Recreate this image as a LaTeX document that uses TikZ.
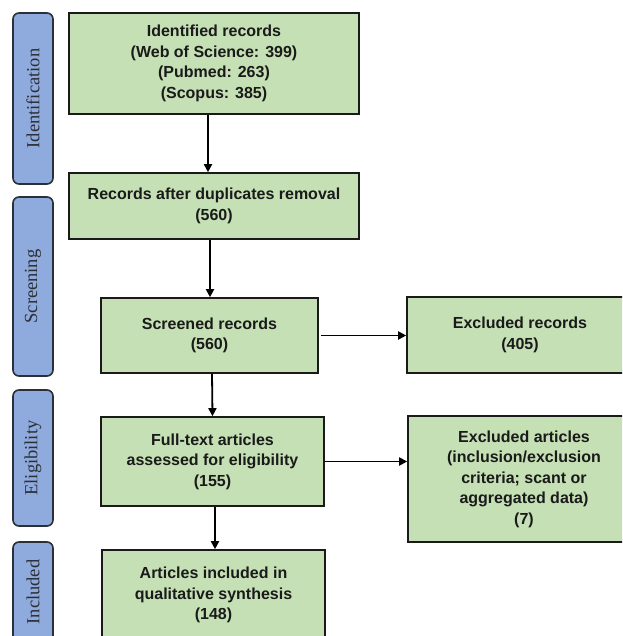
\documentclass[tikz,border=0pt]{standalone}
\usepackage{fontspec}
\usetikzlibrary{positioning,arrows.meta}
\newfontfamily\boxfont{Liberation Sans}
\newfontfamily\stagefont{Liberation Serif}
\definecolor{boxgreen}{HTML}{C5E0B4}
\definecolor{stageblue}{HTML}{8FAADC}
\definecolor{inkdark}{HTML}{1A1A1A}
\definecolor{stageink}{HTML}{2B2F36}

\begin{document}
\begin{tikzpicture}[
  x=1pt, y=-1pt,
  box/.style={draw=inkdark, fill=boxgreen, line width=1.6pt, align=center, inner sep=0pt,
    font=\boxfont\bfseries\fontsize{16}{20.5}\selectfont, text=inkdark},
  stage/.style={draw=stageink, fill=stageblue, line width=1.6pt, rounded corners=6pt,
    minimum width=40pt, inner sep=0pt, text=stageink, font=\stagefont\fontsize{18.5}{20}\selectfont},
  arr/.style={-{Triangle[length=8pt, width=8pt]}, draw=black, line width=1.8pt}]
\clip (0,0) rectangle (622,636);
% stages on the left
\node[stage, minimum height=171pt] (sid) at (33,98.5) {\rotatebox{90}{Identification}};
\node[stage, minimum height=179pt] (sscr) at (33,286.5) {\rotatebox{90}{Screening}};
\node[stage, minimum height=136pt] (selig) at (33,458) {\rotatebox{90}{Eligibility}};
\node[stage, minimum height=100pt] (sincl) at (33,592) {\rotatebox{90}{Included}};
% flow boxes
\node[box, minimum width=290pt, minimum height=101pt] (ident) at (214,63.5)
  {Identified records\\(Web of Science: 399)\\(Pubmed: 263)\\(Scopus: 385)};
\node[box, minimum width=290pt, minimum height=66pt] (dup) at (214,206)
  {Records after duplicates removal\\(560)};
\node[box, minimum width=217pt, minimum height=75pt] (screen) at (209.5,335.5)
  {Screened records\\(560)};
\node[box, minimum width=226pt, minimum height=76pt] (exrec) at (520,335)
  {Excluded records\\(405)};
\node[box, minimum width=223pt, minimum height=89pt] (full) at (212.5,461.5)
  {Full-text articles\\assessed for eligibility\\(155)};
\node[box, minimum width=232pt, minimum height=126pt] (exart) at (524,479)
  {Excluded articles\\(inclusion/exclusion\\criteria; scant or\\aggregated data)\\(7)};
\node[box, minimum width=223pt, minimum height=90pt] (incl) at (213.5,595)
  {Articles included in\\qualitative synthesis\\(148)};
% connectors
\draw[arr] ([xshift=-6pt]ident.south) -- ([xshift=-6pt]dup.north);
\draw[arr] ([xshift=-4pt]dup.south) -- ([xshift=0.5pt]screen.north);
\draw[arr] ([xshift=2.5pt]screen.south) -- (full.north);
\draw[arr] ([xshift=2.5pt]full.south) -- ([xshift=1.5pt]incl.north);
\draw[arr] ([xshift=2pt]screen.east) -- (exrec.west |- screen.east);
\draw[arr] (full.east) -- (exart.west |- full.east);
\end{tikzpicture}
\end{document}
